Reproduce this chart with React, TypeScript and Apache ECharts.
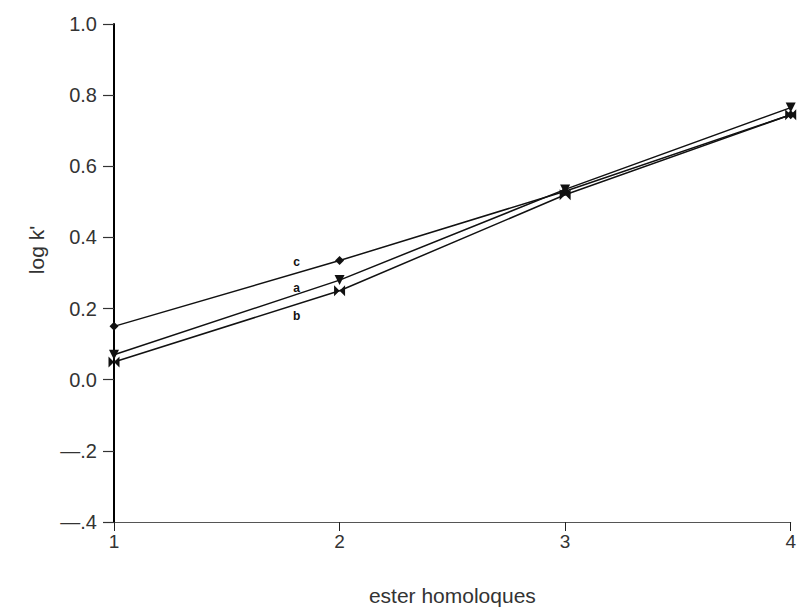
import React, { useEffect, useRef } from "react";
import * as echarts from "echarts";

const xValues = [1, 2, 3, 4];
const seriesA = [0.07, 0.28, 0.535, 0.765];
const seriesB = [0.05, 0.25, 0.52, 0.745];
const seriesC = [0.15, 0.335, 0.53, 0.745];
const seriesNames = ["a", "b", "c"];
const yTickLabels: Record<string, string> = {
  "1": "1.0",
  "0.8": "0.8",
  "0.6": "0.6",
  "0.4": "0.4",
  "0.2": "0.2",
  "0": "0.0",
  "-0.2": "\u2014.2",
  "-0.4": "\u2014.4",
};
const xAxisTitle = "ester homoloques";
const yAxisTitle = "log k'";

// label anchor points (data coordinates) for curve names
const labelAnchors: Record<string, [number, number]> = {
  c: [1.81, 0.33],
  a: [1.81, 0.257],
  b: [1.81, 0.18],
};

const ASTERISK = "path://M-5,-4L5,4L5,-4L-5,4Z";

export default function App() {
  const ref = useRef<HTMLDivElement>(null);
  useEffect(() => {
    document.body.style.margin = "0";
    const chart = echarts.init(ref.current!, null, { renderer: "svg" });
    const font = "Liberation Sans, Arial, sans-serif";
    const mk = (name: string, vals: number[], symbol: string, size: number, rotate = 0) => ({
      type: "line",
      name,
      data: xValues.map((x, i) => [x, vals[i]]),
      symbol,
      symbolSize: size,
      symbolRotate: rotate,
      showSymbol: true,
      lineStyle: { color: "#111", width: 1.5 },
      itemStyle: { color: "#111" },
      markPoint: {
        symbol: "circle",
        symbolSize: 0,
        silent: true,
        label: {
          show: true,
          formatter: name,
          color: "#111",
          fontSize: 12,
          fontWeight: "bold",
          fontFamily: font,
          position: "inside",
        },
        data: [{ coord: labelAnchors[name] }],
      },
    });
    chart.setOption({
      animation: false,
      backgroundColor: "#fff",
      grid: { left: 114, right: 4, top: 24, bottom: 85, containLabel: false },
      xAxis: {
        type: "value",
        min: 1,
        max: 4,
        interval: 1,
        name: xAxisTitle,
        nameLocation: "middle",
        nameGap: 63,
        nameTextStyle: { fontSize: 21, color: "#333", fontFamily: font },
        axisLine: { show: true, onZero: false, lineStyle: { color: "#555", width: 1 } },
        axisTick: { show: true, length: 9, lineStyle: { color: "#222", width: 1 } },
        axisLabel: { color: "#333", fontSize: 19, fontFamily: font, margin: 10 },
        splitLine: { show: false },
      },
      yAxis: {
        type: "value",
        min: -0.4,
        max: 1.0,
        interval: 0.2,
        axisLine: { show: true, onZero: false, lineStyle: { color: "#000", width: 2 } },
        axisTick: { show: true, length: 11, lineStyle: { color: "#333", width: 1.2 } },
        axisLabel: {
          color: "#333",
          fontSize: 20,
          fontFamily: font,
          margin: 17,
          formatter: (v: number) => yTickLabels[String(Math.round(v * 10) / 10)] ?? String(v),
        },
        splitLine: { show: false },
      },
      graphic: [
        {
          type: "text",
          x: 36,
          y: 250,
          rotation: Math.PI / 2,
          style: {
            text: yAxisTitle,
            fontSize: 21,
            fontFamily: font,
            fill: "#333",
            textAlign: "center",
            textVerticalAlign: "middle",
          },
        },
      ],
      series: [
        mk(seriesNames[2], seriesC, "diamond", 9),
        mk(seriesNames[0], seriesA, "triangle", 10, 180),
        mk(seriesNames[1], seriesB, ASTERISK, 11),
      ],
    });
    return () => chart.dispose();
  }, []);
  return (
    <div
      ref={ref}
      style={{ position: "fixed", left: 0, top: 0, width: 799, height: 611 }}
    />
  );
}
